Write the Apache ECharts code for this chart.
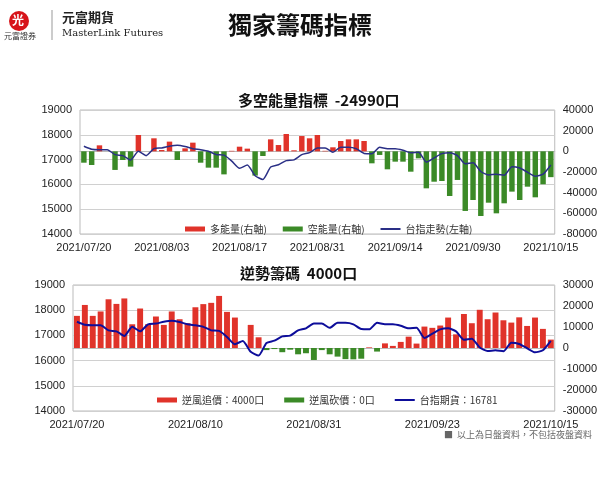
<!DOCTYPE html>
<html><head><meta charset="utf-8">
<script src="https://cdn.jsdelivr.net/npm/echarts@6/dist/echarts.min.js"></script>
<style>body{margin:0;background:#fff}#main{width:600px;height:481px}</style>
</head><body><div id="main"></div>
<script>
// 交易日
var dates = ['2021/07/20','2021/07/21','2021/07/22','2021/07/23','2021/07/26','2021/07/27','2021/07/28','2021/07/29','2021/07/30',
  '2021/08/02','2021/08/03','2021/08/04','2021/08/05','2021/08/06','2021/08/09','2021/08/10','2021/08/11','2021/08/12','2021/08/13',
  '2021/08/16','2021/08/17','2021/08/18','2021/08/19','2021/08/20','2021/08/23','2021/08/24','2021/08/25','2021/08/26','2021/08/27',
  '2021/08/30','2021/08/31','2021/09/01','2021/09/02','2021/09/03','2021/09/06','2021/09/07','2021/09/08','2021/09/09','2021/09/10',
  '2021/09/13','2021/09/14','2021/09/15','2021/09/16','2021/09/17','2021/09/22','2021/09/23','2021/09/24','2021/09/27','2021/09/28',
  '2021/09/29','2021/09/30','2021/10/01','2021/10/04','2021/10/05','2021/10/06','2021/10/07','2021/10/08','2021/10/12','2021/10/13',
  '2021/10/14','2021/10/15'];

// 台指 (左軸)
var indexLine = [17540,17420,17400,17400,17200,17160,16980,17340,17160,17440,17470,17540,17580,17530,17440,17400,17340,17200,17180,16940,
  16650,16780,16350,16200,16700,16790,16960,16990,17200,17280,17470,17470,17300,17500,17500,17440,17250,17240,17500,17440,
  17440,17380,17280,17300,16900,17070,17240,17280,17160,16830,16870,16520,16380,16410,16370,16710,16660,16490,16330,16410,16781];

// 多空能量 (右軸)
var energy = [-11000,-13200,5800,0,-18000,-8400,-14800,15800,0,12600,1300,9400,-8400,2900,8400,-11000,-15800,-15800,-22300,500,
  4500,2600,-23500,-4500,11600,6100,16800,1000,14800,12600,15800,500,3900,10000,11600,11600,10000,-11600,-3500,-17400,
  -10000,-10000,-19700,-6800,-35800,-29400,-28700,-43200,-27700,-57700,-47100,-62600,-49700,-60000,-50300,-39000,-47100,-34200,-44500,-31900,-24990];

// 逆勢籌碼 (右軸)
var contra = [15300,20500,15300,17400,23200,21000,23600,11300,18800,11300,15000,11000,17400,13700,11800,19400,20900,21500,24800,17200,
  14500,0,11000,5100,-1000,-500,-2000,-800,-3000,-2500,-5700,-1000,-3000,-4100,-5300,-5400,-5100,300,-1700,2200,
  1000,2900,5400,2100,10200,9600,10700,14500,6500,16200,11800,18200,13700,16900,13200,12100,14600,10500,14500,9100,4000];

var RED = '#e0332a', GREEN = '#3b8a27';
var pos = function (a) { return a.map(function (v) { return v > 0 ? v : '-'; }); };
var neg = function (a) { return a.map(function (v) { return v < 0 ? v : '-'; }); };

var chart = echarts.init(document.getElementById('main'));
var font = '"Noto Sans CJK TC", "Noto Sans", sans-serif';
var grey = '#d0d0d0';
var lineIcon = 'path://M0,0 L20,0 L20,2 L0,2 Z';

function yAxis(gi, min, max, step, right) {
  return {
    type: 'value', gridIndex: gi, min: min, max: max, interval: step, position: right ? 'right' : 'left',
    axisLine: { show: false }, axisTick: { show: false },
    axisLabel: { color: '#222', fontSize: 11, fontFamily: 'Arial', formatter: function (v) { return String(v); } },
    splitLine: { show: !right, lineStyle: { color: grey } }
  };
}
function xAxis(gi, step) {
  return {
    type: 'category', gridIndex: gi, data: dates, boundaryGap: true,
    axisLine: { lineStyle: { color: '#bbb' } }, axisTick: { show: false },
    axisLabel: { color: '#222', fontSize: 11, fontFamily: 'Arial', interval: function (i) { return i % step === 0; }, hideOverlap: false }
  };
}

var option = {
  animation: false,
  textStyle: { fontFamily: font },
  title: [
    { text: '獨家籌碼指標', left: 'center', top: 8, textStyle: { fontSize: 24, fontWeight: 'bold', color: '#111' } },
    { text: '多空能量指標  -24990口', left: 233, top: 88, textStyle: { fontSize: 15, fontWeight: 'bold', color: '#111' } },
    { text: '逆勢籌碼  4000口', left: 235, top: 261, textStyle: { fontSize: 15, fontWeight: 'bold', color: '#111' } }
  ],
  graphic: [
    { type: 'circle', shape: { cx: 19, cy: 21, r: 10 }, style: { fill: '#d7141a' } },
    { type: 'text', left: 12, top: 14, style: { text: '光', fill: '#fff', font: 'bold 12px "Noto Sans CJK TC"' } },
    { type: 'text', left: 4, top: 32, style: { text: '元富證券', fill: '#333', font: '8px "Noto Sans CJK TC"' } },
    { type: 'text', left: 62, top: 11, style: { text: '元富期貨', fill: '#222', font: 'bold 13px "Noto Sans CJK TC"' } },
    { type: 'text', left: 62, top: 28, style: { text: 'MasterLink Futures', fill: '#222', font: '10px "DejaVu Serif"' } },
    { type: 'line', shape: { x1: 52, y1: 10, x2: 52, y2: 40 }, style: { stroke: '#999', lineWidth: 1 } },
    { type: 'text', right: 8, top: 430, style: { text: '■  以上為日盤資料，不包括夜盤資料', fill: '#666', font: '9px "Noto Sans CJK TC"' } }
  ],
  legend: [
    { top: 219, left: 180, itemWidth: 20, itemHeight: 5, itemGap: 16, textStyle: { fontSize: 10, color: '#333' },
      data: [{ name: '多能量(右軸)', icon: 'rect' }, { name: '空能量(右軸)', icon: 'rect' }, { name: '台指走勢(左軸)', icon: lineIcon, itemStyle: { color: '#2a2f86' } }] },
    { top: 390, left: 152, itemWidth: 20, itemHeight: 5, itemGap: 20, textStyle: { fontSize: 10, color: '#333' },
      data: [{ name: '逆風追價：4000口', icon: 'rect' }, { name: '逆風砍價：0口', icon: 'rect' }, { name: '台指期貨：16781', icon: lineIcon, itemStyle: { color: '#0d0d9a' } }] }
  ],
  grid: [
    { left: 80, right: 45, top: 110, height: 124, show: true, borderColor: '#bbb', backgroundColor: 'transparent' },
    { left: 73, right: 45, top: 285, height: 126, show: true, borderColor: '#bbb', backgroundColor: 'transparent' }
  ],
  xAxis: [xAxis(0, 10), xAxis(1, 15)],
  yAxis: [
    yAxis(0, 14000, 19000, 1000, false), yAxis(0, -80000, 40000, 20000, true),
    yAxis(1, 14000, 19000, 1000, false), yAxis(1, -30000, 30000, 10000, true)
  ],
  series: [
    { name: '多能量(右軸)', type: 'bar', xAxisIndex: 0, yAxisIndex: 1, stack: 'e', barWidth: '70%', data: pos(energy), itemStyle: { color: RED } },
    { name: '空能量(右軸)', type: 'bar', xAxisIndex: 0, yAxisIndex: 1, stack: 'e', barWidth: '70%', data: neg(energy), itemStyle: { color: GREEN } },
    { name: '台指走勢(左軸)', type: 'line', xAxisIndex: 0, yAxisIndex: 0, data: indexLine, symbol: 'none', smooth: 0.2,
      lineStyle: { color: '#2a2f86', width: 1.5 }, itemStyle: { color: '#2a2f86' } },
    { name: '逆風追價：4000口', type: 'bar', xAxisIndex: 1, yAxisIndex: 3, stack: 'c', barWidth: '75%', data: pos(contra), itemStyle: { color: RED } },
    { name: '逆風砍價：0口', type: 'bar', xAxisIndex: 1, yAxisIndex: 3, stack: 'c', barWidth: '75%', data: neg(contra), itemStyle: { color: GREEN } },
    { name: '台指期貨：16781', type: 'line', xAxisIndex: 1, yAxisIndex: 2, data: indexLine, symbol: 'none', smooth: 0.2,
      lineStyle: { color: '#0d0d9a', width: 2 }, itemStyle: { color: '#0d0d9a' } }
  ]
};
chart.setOption(option);
</script></body></html>
